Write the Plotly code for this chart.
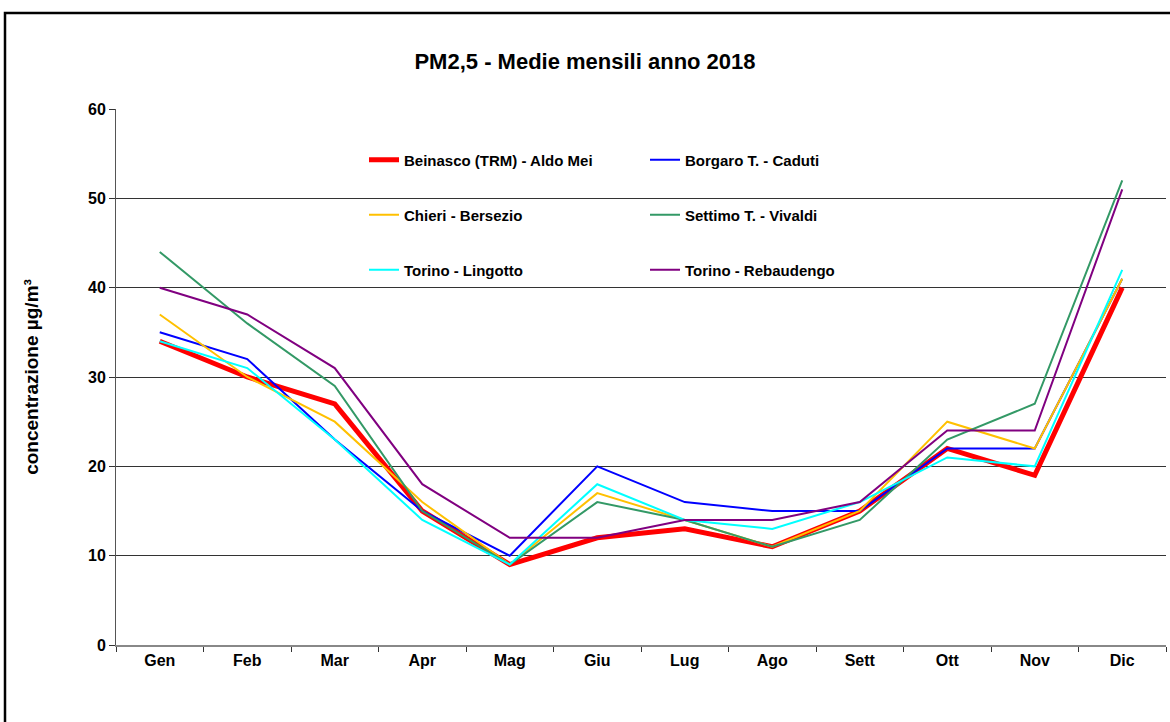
import plotly.graph_objects as go

months = ["Gen", "Feb", "Mar", "Apr", "Mag", "Giu", "Lug", "Ago", "Sett", "Ott", "Nov", "Dic"]

beinasco = [34, 30, 27, 15, 9, 12, 13, 11, 15, 22, 19, 40]
borgaro = [35, 32, 23, 15, 10, 20, 16, 15, 15, 22, 22, 41]
chieri = [37, 30, 25, 16, 9, 17, 14, 11, 15, 25, 22, 41]
settimo = [44, 36, 29, 15, 9, 16, 14, 11, 14, 23, 27, 52]
lingotto = [34, 31, 23, 14, 9, 18, 14, 13, 16, 21, 20, 42]
rebaudengo = [40, 37, 31, 18, 12, 12, 14, 14, 16, 24, 24, 51]

series = [
    ("Beinasco (TRM) - Aldo Mei", beinasco, "#FF0000", 5, "legend"),
    ("Borgaro T. - Caduti", borgaro, "#0000FF", 2, "legend"),
    ("Chieri - Bersezio", chieri, "#FFC000", 2, "legend2"),
    ("Settimo T. - Vivaldi", settimo, "#339966", 2, "legend2"),
    ("Torino - Lingotto", lingotto, "#00FFFF", 2, "legend3"),
    ("Torino - Rebaudengo", rebaudengo, "#800080", 2, "legend3"),
]

FONT = "Liberation Sans, Arial, sans-serif"

fig = go.Figure()
for name, vals, color, w, lg in series:
    fig.add_trace(go.Scatter(x=months, y=vals, name="<b>" + name + "</b>", mode="lines",
                             line=dict(color=color, width=w), legend=lg))

W, H = 1170, 722
L, R, T, B = 116, 4, 109, 77
pw = W - L - R
ph = H - T - B

def px_x(x):
    return (x - L) / pw

def px_y(y):
    return (H - B - y) / ph

legend_common = dict(orientation="h", entrywidth=236, entrywidthmode="pixels",
                     font=dict(family=FONT, size=15, color="black"),
                     bgcolor="rgba(0,0,0,0)", xanchor="left", yanchor="middle",
                     x=px_x(364), itemclick=False, tracegroupgap=0)

fig.update_layout(
    width=W, height=H,
    margin=dict(l=L, r=R, t=T, b=B),
    paper_bgcolor="white", plot_bgcolor="white",
    font=dict(family=FONT, color="black"),
    title=dict(text="<b>PM2,5 - Medie mensili anno 2018</b>", x=0.5, xanchor="center",
               y=1 - 61 / H, yanchor="middle", font=dict(family=FONT, size=22, color="black")),
    legend=dict(legend_common, y=px_y(160)),
    legend2=dict(legend_common, y=px_y(215)),
    legend3=dict(legend_common, y=px_y(270)),
    showlegend=True,
)

fig.update_xaxes(type="category", range=[-0.5, 11.5], tickson="boundaries", ticks="outside",
                 ticklen=5, tickcolor="#333", showline=True, linecolor="#888", linewidth=2,
                 showgrid=False, tickfont=dict(family=FONT, size=16, color="black"),
                 tickprefix="<b>", ticksuffix="</b>")
fig.update_yaxes(range=[0, 60], dtick=10, ticks="outside", ticklen=6, tickcolor="#333",
                 showline=True, linecolor="#555", linewidth=1,
                 showgrid=True, gridcolor="#333", gridwidth=1, zeroline=False,
                 tickfont=dict(family=FONT, size=16, color="black"),
                 tickprefix="<b>", ticksuffix="</b>",
                 title=dict(text="<b>concentrazione µg/m³</b>", standoff=44,
                            font=dict(family=FONT, size=19, color="black")))

fig.add_shape(type="rect", xref="paper", yref="paper",
              x0=px_x(5), x1=px_x(1180), y0=px_y(13), y1=px_y(735),
              line=dict(color="black", width=2.5), fillcolor="rgba(0,0,0,0)", layer="above")

fig.write_html("out.html", config={"displayModeBar": False},
               post_script="document.body.style.margin='0';")
